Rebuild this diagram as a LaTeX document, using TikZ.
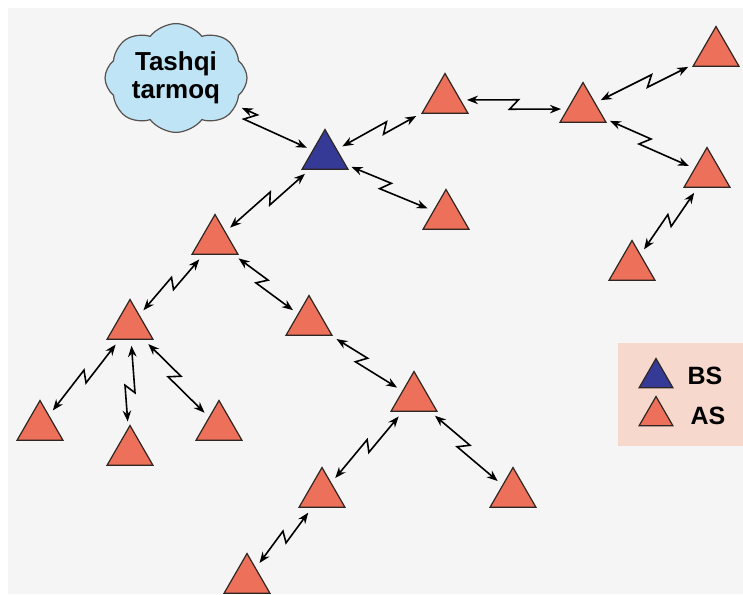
\documentclass[tikz,border=0pt]{standalone}
\usepackage{fontspec}
\setmainfont{Liberation Sans}
\usetikzlibrary{arrows.meta,calc,shapes.geometric,shapes.symbols}

\definecolor{paper}{HTML}{F5F5F5}
\definecolor{asred}{HTML}{EC705A}
\definecolor{bsblue}{HTML}{343A96}
\definecolor{edge}{HTML}{2E2622}
\definecolor{skyfill}{HTML}{BEE4F5}
\definecolor{keyfill}{HTML}{F7D8CC}

\begin{document}
\begin{tikzpicture}[
  x=1pt,y=-1pt,
  station/.style={regular polygon,regular polygon sides=3,draw=edge,
    line width=1.2pt,fill=asred,minimum size=53pt,inner sep=0pt},
  basest/.style={station,fill=bsblue},
  keyst/.style={station,minimum size=39pt},
  net/.style={cloud,cloud puffs=8,cloud puff arc=105,aspect=1.35,
    draw=edge!80,line width=1.2pt,fill=skyfill,minimum width=142pt,
    minimum height=106pt,inner sep=0pt,align=center,
    font=\bfseries\fontsize{26}{28}\selectfont},
  label/.style={anchor=west,font=\bfseries\fontsize{25}{28}\selectfont},
  link/.style={{Stealth[length=11pt,width=8.5pt]}-{Stealth[length=11pt,width=8.5pt]},
    line width=1.6pt,shorten <=6pt,shorten >=6pt,
    to path={-- ($(\tikztostart)!.53!(\tikztotarget)!5pt!90:(\tikztotarget)$)
      -- ($(\tikztostart)!.47!(\tikztotarget)!5pt!-90:(\tikztotarget)$)
      -- (\tikztotarget) \tikztonodes}}
]
  \useasboundingbox (0,0) rectangle (743,594);
  \fill[white] (0,0) rectangle (743,594);
  \fill[paper] (8,8) rectangle (743,594);

  % legend
  \fill[keyfill] (618,343) rectangle (743,446);
  \node[keyst,fill=bsblue] (keybs) at (656,378) {};
  \node[keyst] (keyas) at (656,416) {};
  \node[label] (txtbs) at (684,376) {BS};
  \node[label] (txtas) at (687,416) {AS};

  % network
  \node[net] (net) at (176,78) {Tashqi\\tarmoq};
  \node[basest] (bs) at (325,156) {};
  \node[station] (a1) at (445,100) {};
  \node[station] (a2) at (583,109) {};
  \node[station] (a3) at (716,53) {};
  \node[station] (a4) at (707,174) {};
  \node[station] (a5) at (632,267) {};
  \node[station] (a6) at (446,216) {};
  \node[station] (a7) at (215,241) {};
  \node[station] (a8) at (130,326) {};
  \node[station] (a9) at (309,322) {};
  \node[station] (a10) at (40,427) {};
  \node[station] (a11) at (130,452) {};
  \node[station] (a12) at (219,427) {};
  \node[station] (a13) at (414,398) {};
  \node[station] (a14) at (322,494) {};
  \node[station] (a15) at (513,494) {};
  \node[station] (a16) at (247,580) {};

  \draw[link] (net) to (bs);
  \draw[link] (bs) to (a1);
  \draw[link] (bs) to (a6);
  \draw[link] (bs) to (a7);
  \draw[link] (a1) to (a2);
  \draw[link] (a2) to (a3);
  \draw[link] (a2) to (a4);
  \draw[link] (a4) to (a5);
  \draw[link] (a7) to (a8);
  \draw[link] (a7) to (a9);
  \draw[link] (a8) to (a10);
  \draw[link] (a8) to (a11);
  \draw[link] (a8) to (a12);
  \draw[link] (a9) to (a13);
  \draw[link] (a13) to (a14);
  \draw[link] (a13) to (a15);
  \draw[link] (a14) to (a16);
\end{tikzpicture}
\end{document}
